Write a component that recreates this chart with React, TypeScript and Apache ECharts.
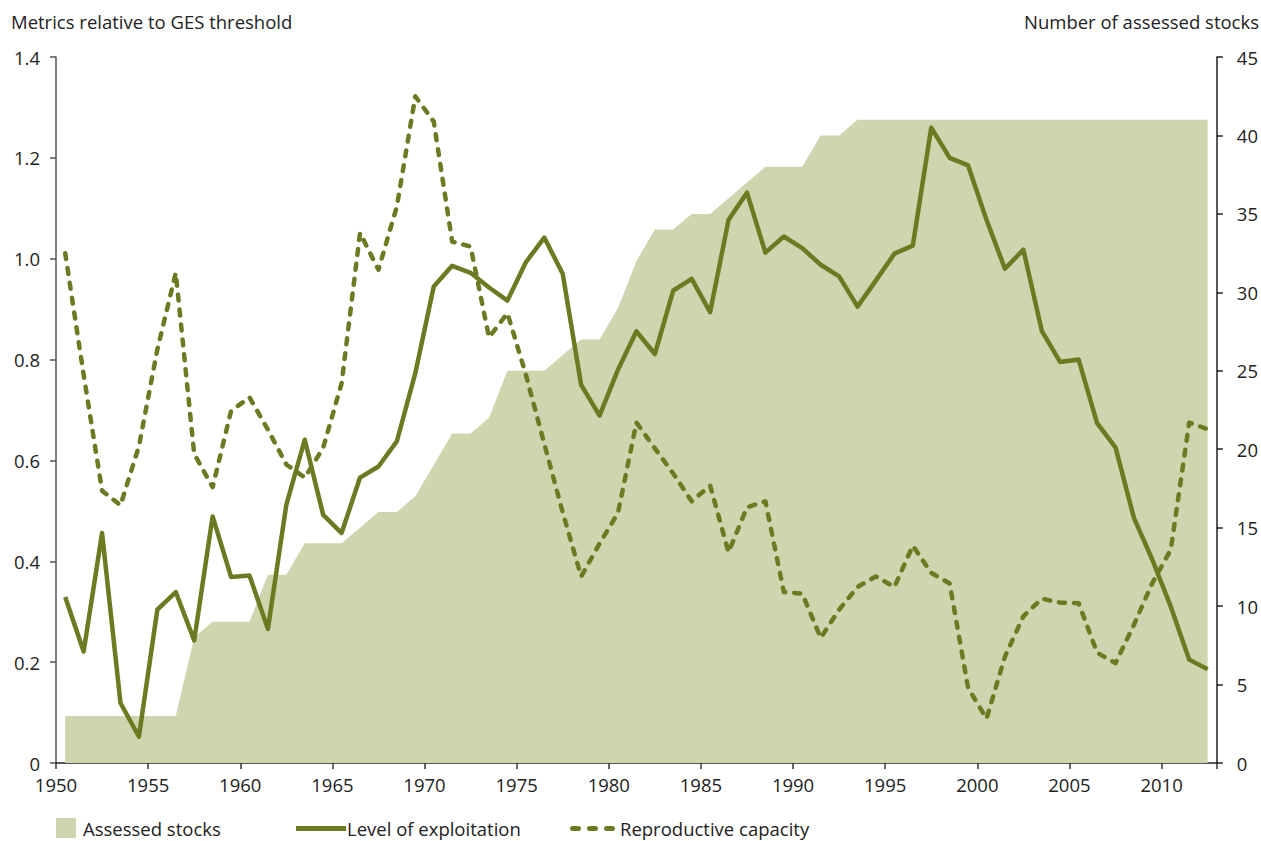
import React, { useEffect, useRef } from "react";
import * as echarts from "echarts";

// Year of each observation (plotted at mid-year)
const years = [
  1950, 1951, 1952, 1953, 1954, 1955, 1956, 1957, 1958, 1959,
  1960, 1961, 1962, 1963, 1964, 1965, 1966, 1967, 1968, 1969,
  1970, 1971, 1972, 1973, 1974, 1975, 1976, 1977, 1978, 1979,
  1980, 1981, 1982, 1983, 1984, 1985, 1986, 1987, 1988, 1989,
  1990, 1991, 1992, 1993, 1994, 1995, 1996, 1997, 1998, 1999,
  2000, 2001, 2002, 2003, 2004, 2005, 2006, 2007, 2008, 2009,
  2010, 2011, 2012,
];

const assessedStocks = [
  3, 3, 3, 3, 3, 3, 3, 8, 9, 9,
  9, 12, 12, 14, 14, 14, 15, 16, 16, 17,
  19, 21, 21, 22, 25, 25, 25, 26, 27, 27,
  29, 32, 34, 34, 35, 35, 36, 37, 38, 38,
  38, 40, 40, 41, 41, 41, 41, 41, 41, 41,
  41, 41, 41, 41, 41, 41, 41, 41, 41, 41,
  41, 41, 41,
];

const levelOfExploitation = [
  0.329, 0.221, 0.456, 0.119, 0.052, 0.304, 0.339, 0.243, 0.489, 0.369,
  0.372, 0.266, 0.512, 0.641, 0.492, 0.456, 0.566, 0.588, 0.638, 0.773,
  0.945, 0.986, 0.972, 0.943, 0.917, 0.993, 1.042, 0.970, 0.750, 0.689,
  0.780, 0.856, 0.811, 0.937, 0.960, 0.894, 1.077, 1.131, 1.012, 1.044,
  1.021, 0.988, 0.965, 0.905, 0.957, 1.010, 1.026, 1.260, 1.200, 1.185,
  1.077, 0.980, 1.018, 0.857, 0.795, 0.800, 0.674, 0.626, 0.486, 0.403,
  0.310, 0.205, 0.186,
];

const reproductiveCapacity = [
  1.011, 0.770, 0.540, 0.511, 0.628, 0.820, 0.972, 0.613, 0.547, 0.698,
  0.725, 0.661, 0.592, 0.566, 0.625, 0.753, 1.051, 0.978, 1.104, 1.322,
  1.272, 1.034, 1.024, 0.844, 0.892, 0.770, 0.633, 0.497, 0.370, 0.435,
  0.496, 0.675, 0.624, 0.574, 0.519, 0.550, 0.418, 0.507, 0.519, 0.339,
  0.336, 0.248, 0.304, 0.349, 0.370, 0.349, 0.431, 0.377, 0.356, 0.149,
  0.088, 0.211, 0.291, 0.326, 0.318, 0.317, 0.219, 0.198, 0.274, 0.357,
  0.423, 0.675, 0.662,
];

const xTicks = [1950, 1955, 1960, 1965, 1970, 1975, 1980, 1985, 1990, 1995, 2000, 2005, 2010];

const FONT = "'Open Sans', 'Noto Sans', sans-serif";
const FS = 18.5;
const LINE_COLOR = "#6d7a22";
const AREA_COLOR = "#cfd5ae";
const TEXT_COLOR = "#222";

const dashIcon =
  "path://M2.5,0H8.5A2.5,2.5 0 0 1 8.5,5H2.5A2.5,2.5 0 0 1 2.5,0Z" +
  "M19.5,0H25.5A2.5,2.5 0 0 1 25.5,5H19.5A2.5,2.5 0 0 1 19.5,0Z" +
  "M36.5,0H42.5A2.5,2.5 0 0 1 42.5,5H36.5A2.5,2.5 0 0 1 36.5,0Z";

export default function App() {
  const ref = useRef<HTMLDivElement>(null);

  useEffect(() => {
    if (!ref.current) return;
    const chart = echarts.init(ref.current, null, { renderer: "svg" });
    const pts = (vals: number[]) => years.map((y, i) => [y + 0.5, vals[i]]);

    const legendText = { fontFamily: FONT, fontSize: FS, color: TEXT_COLOR, lineHeight: 18 };

    chart.setOption({
      animation: false,
      backgroundColor: "#fff",
      textStyle: { fontFamily: FONT },
      grid: { left: 56, right: 44, top: 57, bottom: 78, containLabel: false },
      graphic: [
        {
          type: "text",
          left: 11,
          top: 12,
          style: { text: "Metrics relative to GES threshold", font: `${FS}px ${FONT}`, fill: TEXT_COLOR },
        },
        {
          type: "text",
          right: 2,
          top: 12,
          style: { text: "Number of assessed stocks", font: `${FS}px ${FONT}`, fill: TEXT_COLOR },
        },
      ],
      legend: [
        {
          left: 56,
          top: 818,
          padding: 0,
          icon: "rect",
          itemWidth: 20,
          itemHeight: 20,
          textStyle: { ...legendText, padding: [0, 0, 0, 2] },
          data: [{ name: "Assessed stocks", itemStyle: { color: AREA_COLOR } }],
        },
        {
          left: 296,
          top: 819,
          padding: 0,
          icon: "rect",
          itemWidth: 50,
          itemHeight: 5,
          textStyle: { ...legendText, padding: [0, 0, 0, -4] },
          data: [{ name: "Level of exploitation", itemStyle: { color: LINE_COLOR } }],
        },
        {
          left: 570,
          top: 819,
          padding: 0,
          icon: dashIcon,
          itemWidth: 45,
          itemHeight: 5,
          textStyle: { ...legendText },
          data: [{ name: "Reproductive capacity", itemStyle: { color: LINE_COLOR } }],
        },
      ],
      xAxis: {
        type: "value",
        min: 1950,
        max: 2013,
        interval: 5,
        axisLine: { show: true, lineStyle: { color: "#222", width: 1.5 } },
        axisTick: { show: true, length: 6, lineStyle: { color: "#333", width: 1.5 } },
        axisLabel: {
          fontFamily: FONT,
          fontSize: FS,
          color: TEXT_COLOR,
          margin: 12,
          formatter: (v: number) => (xTicks.includes(v) ? String(v) : ""),
        },
        splitLine: { show: false },
      },
      yAxis: [
        {
          type: "value",
          min: 0,
          max: 1.4,
          interval: 0.2,
          position: "left",
          axisLine: { show: true, lineStyle: { color: "#555", width: 1.5 } },
          axisTick: { show: true, length: 6, lineStyle: { color: "#555", width: 1.5 } },
          axisLabel: {
            fontFamily: FONT,
            fontSize: FS,
            color: TEXT_COLOR,
            margin: 16,
            formatter: (v: number) => (v === 0 ? "0" : v.toFixed(1)),
          },
          splitLine: { show: false },
        },
        {
          type: "value",
          min: 0,
          max: 45,
          interval: 5,
          position: "right",
          axisLine: { show: true, lineStyle: { color: "#222", width: 1.5 } },
          axisTick: { show: true, length: 6, lineStyle: { color: "#222", width: 1.5 } },
          axisLabel: { fontFamily: FONT, fontSize: FS, color: TEXT_COLOR, margin: 20 },
          splitLine: { show: false },
        },
      ],
      series: [
        {
          name: "Assessed stocks",
          type: "line",
          yAxisIndex: 1,
          data: pts(assessedStocks),
          symbol: "none",
          lineStyle: { width: 0, color: AREA_COLOR },
          itemStyle: { color: AREA_COLOR },
          areaStyle: { color: AREA_COLOR, opacity: 1 },
          z: 1,
        },
        {
          name: "Level of exploitation",
          type: "line",
          yAxisIndex: 0,
          data: pts(levelOfExploitation),
          symbol: "none",
          lineStyle: { width: 4.5, color: LINE_COLOR, join: "round" },
          itemStyle: { color: LINE_COLOR },
          z: 3,
        },
        {
          name: "Reproductive capacity",
          type: "line",
          yAxisIndex: 0,
          data: pts(reproductiveCapacity),
          symbol: "none",
          lineStyle: { width: 4.5, color: LINE_COLOR, type: [6, 9], cap: "round", join: "round" },
          itemStyle: { color: LINE_COLOR },
          z: 3,
        },
      ],
    });

    return () => chart.dispose();
  }, []);

  return (
    <div
      ref={ref}
      style={{ position: "absolute", left: 0, top: 0, width: 1261, height: 841, background: "#fff" }}
    />
  );
}
